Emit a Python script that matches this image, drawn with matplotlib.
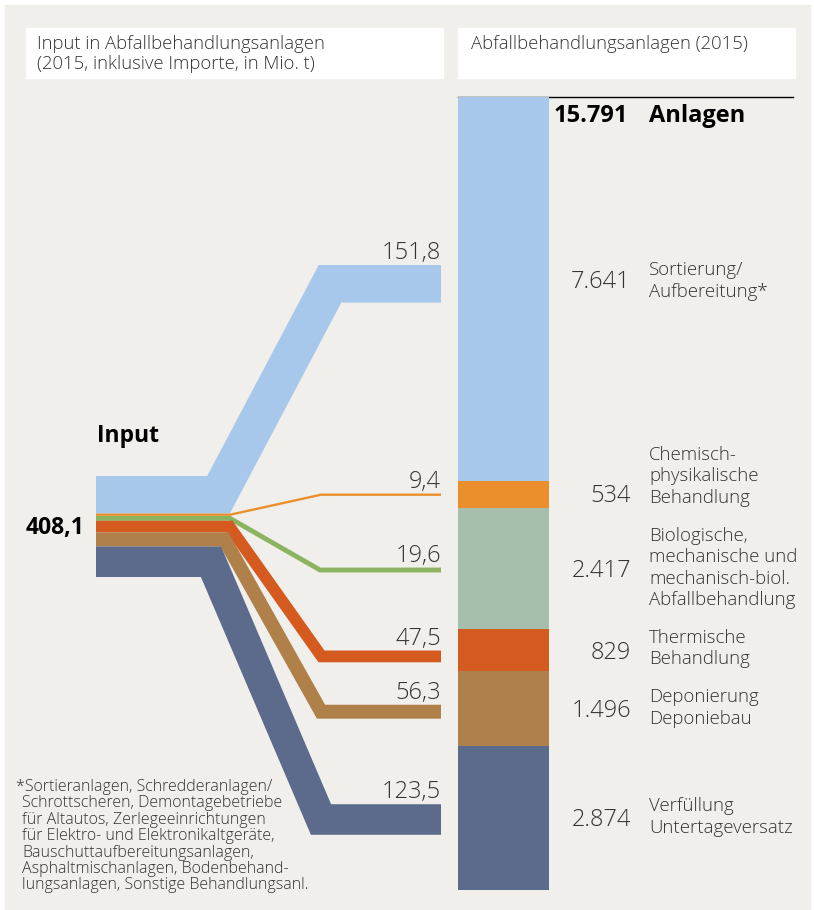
import matplotlib
matplotlib.use('Agg')
import matplotlib.pyplot as plt
from matplotlib.patches import Rectangle
import numpy as np

plt.rcParams['font.family'] = ['Open Sans', 'DejaVu Sans']

# input flows (Mio. t), top to bottom
input_total = 408.1
flow_values = [151.8, 9.4, 19.6, 47.5, 56.3, 123.5]
flow_labels = ['151,8', '9,4', '19,6', '47,5', '56,3', '123,5']

# plants (Anzahl Anlagen), top to bottom
plant_total = 15791
plant_values = [7641, 534, 2417, 829, 1496, 2874]
plant_numbers = ['7.641', '534', '2.417', '829', '1.496', '2.874']
plant_names = [['Sortierung/', 'Aufbereitung*'],
               ['Chemisch-', 'physikalische', 'Behandlung'],
               ['Biologische,', 'mechanische und', 'mechanisch-biol.', 'Abfallbehandlung'],
               ['Thermische', 'Behandlung'],
               ['Deponierung', 'Deponiebau'],
               ['Verfüllung', 'Untertageversatz']]

footnote = ['*Sortieranlagen, Schredderanlagen/',
            'Schrottscheren, Demontagebetriebe',
            'für Altautos, Zerlegeeinrichtungen',
            'für Elektro- und Elektronikaltgeräte,',
            'Bauschuttaufbereitungsanlagen,',
            'Asphaltmischanlagen, Bodenbehand-',
            'lungsanlagen, Sonstige Behandlungsanl.']

flow_colors = ['#a7c8ea', '#ea8f2b', '#8cb35f', '#d55a20', '#b0804a', '#5c6b8c']
bar_colors = ['#a7c8ea', '#ea8f2b', '#a6bfad', '#d55a20', '#b0804a', '#5c6b8c']
txt = '#333333'
bg = '#f0efeb'

W, H = 814, 910
fig = plt.figure(figsize=(W / 100, H / 100), dpi=100)
fig.patch.set_facecolor('white')
ax = fig.add_axes([0, 0, 1, 1])
ax.set_xlim(0, W)
ax.set_ylim(H, 0)
ax.axis('off')

ax.add_patch(Rectangle((5, 5), 805, 910, color=bg, zorder=0))
ax.add_patch(Rectangle((26, 28), 417, 50, color='white', zorder=1))
ax.add_patch(Rectangle((458, 28), 337, 50, color='white', zorder=1))
ax.text(37, 44, 'Input in Abfallbehandlungsanlagen', fontsize=13.3, color=txt,
        va='center', fontweight='light')
ax.text(37, 64, '(2015, inklusive Importe, in Mio. t)', fontsize=13.3, color=txt,
        va='center', fontweight='light')
ax.text(471, 44, 'Abfallbehandlungsanlagen (2015)', fontsize=13.3, color=txt,
        va='center', fontweight='light')

# --- flows (thick lines with miter joins) ---
in_top, in_bot = 476, 577
px_per_t = (in_bot - in_top) / input_total
x_left, x_right = 96, 441
bend_left = [218.5, 230, 230, 229.5, 224.5, 211]
bend_right = [330, 321, 320, 321.5, 321, 321]
end_center = [283.8, 494.7, 570, 656.4, 711.7, 819.5]

cum = 0
for i, v in enumerate(flow_values):
    h = v * px_per_t
    yl = in_top + (cum + v / 2) * px_per_t
    yr = end_center[i]
    cum += v
    ax.plot([x_left, bend_left[i], bend_right[i], x_right], [yl, yl, yr, yr],
            color=flow_colors[i], lw=h * 0.72, solid_joinstyle='miter',
            solid_capstyle='butt', zorder=3 + (i == 1))
    ax.text(x_right, yr - h / 2 - 6, flow_labels[i], ha='right', va='baseline',
            fontsize=17, color=txt, fontweight='light')

ax.text(97, 436, 'Input', fontsize=16.5, fontweight='bold', color='black',
        va='center', ha='left')
ax.text(84, 528, '408,1', fontsize=16.5, fontweight='bold', color='black',
        va='center', ha='right')

# --- stacked bar ---
bar_top, bar_bot = 97, 890
bax = fig.add_axes([458 / W, (H - bar_bot) / H, 91 / W, (bar_bot - bar_top) / H])
bax.set_xlim(0, 1)
bax.set_ylim(plant_total, 0)
bax.axis('off')
bottoms = np.concatenate([[0], np.cumsum(plant_values)[:-1]])
bax.bar(0.5, plant_values, bottom=bottoms, width=1, color=bar_colors)

ax.plot([458, 793], [97, 97], color='black', lw=1, zorder=5)
ax.text(628, 116, '15.791', fontsize=17, fontweight='bold', color='black',
        ha='right', va='center')
ax.text(649, 116, 'Anlagen', fontsize=17, fontweight='bold', color='black',
        ha='left', va='center')

px_per_plant = (bar_bot - bar_top) / plant_total
nudge = [-9, -1, 0, 1, 0, 0]
name_nudge = [1, -17, 0, -2, 0, -1]
line_h = 21.5
for i, v in enumerate(plant_values):
    yc = bar_top + (bottoms[i] + v / 2) * px_per_plant + nudge[i]
    ax.text(631, yc + 8.5, plant_numbers[i], ha='right', va='baseline',
            fontsize=17, color=txt, fontweight='light')
    lines = plant_names[i]
    y0 = yc + name_nudge[i] - (len(lines) - 1) * line_h / 2
    for k, s in enumerate(lines):
        ax.text(649, y0 + k * line_h, s, ha='left', va='center',
                fontsize=13.4, color=txt, fontweight='light')

# --- footnote ---
for k, s in enumerate(footnote):
    ax.text(16 if k == 0 else 22, 787 + k * 16.4, s, fontsize=11.5, color=txt,
            va='center', ha='left', fontweight='light')

fig.savefig('out.png', dpi=100, facecolor='white')
